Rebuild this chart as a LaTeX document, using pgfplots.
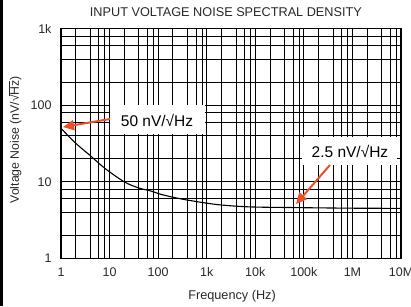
\documentclass[border=0pt]{standalone}
\usepackage{fontspec}
\setmainfont{Liberation Sans}
\usepackage{pgfplots}
\pgfplotsset{compat=1.18}
\usetikzlibrary{arrows.meta}
\definecolor{annot}{RGB}{238,78,36}
\definecolor{txt}{RGB}{40,40,40}
\begin{document}
\begin{tikzpicture}
\useasboundingbox (0,0) rectangle (411pt,306pt);
\fill[black] (0,0) rectangle (3pt,306pt);
\begin{axis}[
 at={(61pt,47.7pt)}, anchor=south west,
 scale only axis, width=340pt, height=229.5pt,
 xmode=log, ymode=log,
 xmin=1, xmax=1e7, ymin=1, ymax=1000,
 xtick={1,10,100,1000,10000,100000,1000000,10000000},
 xticklabels={1,10,100,1k,10k,100k,1M,10M},
 ytick={1,10,100,1000},
 yticklabels={1,10,100,1k},
 minor xtick={2,4,6,8,20,40,60,80,200,400,600,800,2000,4000,6000,8000,20000,40000,60000,80000,2e5,4e5,6e5,8e5,2e6,4e6,6e6,8e6},
 minor ytick={2,4,6,8,20,40,60,80,200,400,600,800},
 grid=both,
 major grid style={black, line width=0.75pt},
 minor grid style={black, line width=0.75pt},
 axis line style={line width=1.3pt},
 major tick length=0pt, minor tick length=0pt,
 ticklabel style={font=\fontsize{12.5}{14}\selectfont, text=txt},
 xticklabel style={yshift=-6pt},
 yticklabel style={xshift=-6pt},
 title={INPUT VOLTAGE NOISE SPECTRAL DENSITY},
 title style={at={(axis description cs:0.485,1.028)}, anchor=base, font=\fontsize{12.7}{14}\selectfont, text=txt},
 xlabel={Frequency (Hz)},
 xlabel style={at={(axis description cs:0.503,-0.1643)}, anchor=center, font=\fontsize{12.7}{14}\selectfont, text=txt},
 ylabel={Voltage Noise (nV/√\kern-0.08em$\overline{\mbox{Hz}}$)},
 ylabel style={at={(axis description cs:-0.1353,0.515)}, anchor=center, font=\fontsize{12.3}{14}\selectfont, text=txt},
]
\addplot[black, line width=1.1pt, smooth] coordinates {
 (1,50) (2,32) (4,22) (8,15) (20,10) (40,8.3) (70,7.6) (120,6.8) (330,5.9)
 (1600,5.05) (7700,4.7) (70000,4.6) (1e6,4.52) (1e7,4.5)
};
\node[fill=white, font=\fontsize{15.5}{18}\selectfont, minimum width=95pt, minimum height=29pt, inner sep=0pt] at (axis cs:94.8,64.3) {50 nV/√Hz};
\node[fill=white, font=\fontsize{15.5}{18}\selectfont, minimum width=95pt, minimum height=28pt, inner sep=0pt] at (axis cs:8.9e5,25.3) {2.5 nV/√Hz};
\draw[annot, line width=2pt, -{Triangle[length=11pt,width=10pt]}] (axis cs:10.2,66.2) -- (axis cs:1.1,52);
\draw[annot, line width=2pt, -{Triangle[length=11pt,width=10pt]}] (axis cs:3.45e5,16.6) -- (axis cs:6.9e4,5.13);
\end{axis}
\end{tikzpicture}
\end{document}
